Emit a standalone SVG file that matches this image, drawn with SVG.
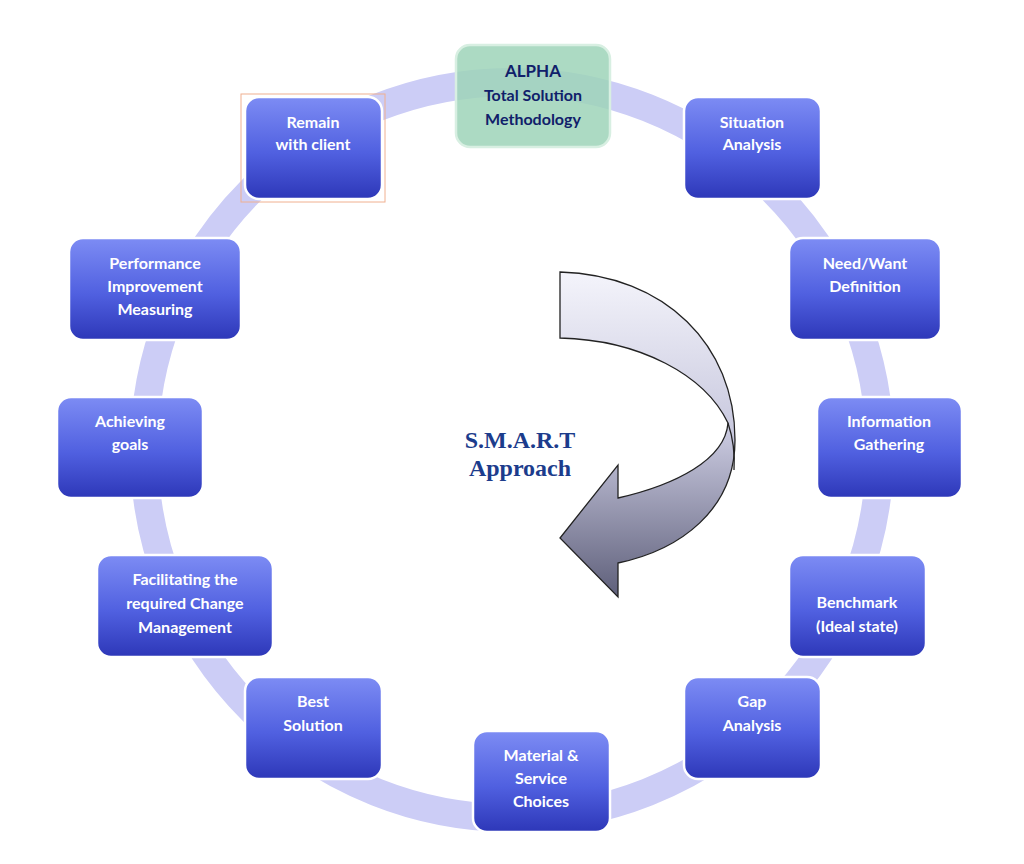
<svg xmlns="http://www.w3.org/2000/svg" width="1024" height="864" viewBox="0 0 1024 864">
<defs>
<linearGradient id="blue" x1="0" y1="0" x2="0" y2="1"><stop offset="0" stop-color="#7d8cf4"/><stop offset="0.55" stop-color="#5060e0"/><stop offset="1" stop-color="#2d37b8"/></linearGradient>
<linearGradient id="arr" x1="0" y1="0" x2="0" y2="1"><stop offset="0" stop-color="#f4f4fb"/><stop offset="0.5" stop-color="#c8c8de"/><stop offset="1" stop-color="#5e5f7a"/></linearGradient>
<style>
.n{fill:url(#blue);stroke:#ffffff;stroke-width:2.5}
.o{fill:none;stroke:#5a64c8;stroke-width:1}
.t{font-family:Lato,"Open Sans",sans-serif;font-weight:bold;font-size:16px;fill:#ffffff;text-anchor:middle}
</style>
</defs>
<rect width="1024" height="864" fill="#ffffff"/>
<g id="ring"><circle cx="512" cy="450" r="368" fill="none" stroke="#cccdf6" stroke-width="28"/></g>
<g id="connectors">
<path d="M560,272 C665,275 735,345 735,440 C735,510 680,550 618,563 L618,597 L560,538 L618,465 L618,498 C675,485 725,460 728,423 C705,375 640,340 560,338 Z" fill="url(#arr)" stroke="#222" stroke-width="1.3"/>
<path d="M728,423 C733,438 735,455 734,470" fill="none" stroke="#222" stroke-width="1.3"/>
</g>
<g id="smart"><text x="520" y="448" font-family="Liberation Serif,serif" font-weight="bold" font-size="24" fill="#1c3c8c" text-anchor="middle">S.M.A.R.T</text><text x="520" y="476" font-family="Liberation Serif,serif" font-weight="bold" font-size="24" fill="#1c3c8c" text-anchor="middle">Approach</text></g>
<g id="alpha"><rect x="456" y="45" width="154" height="102" rx="14" fill="#9ed3b8" fill-opacity="0.85" stroke="#d8efe2" stroke-width="2.5"/>
<text class="t" x="533" y="77" fill="#10206a" style="fill:#10206a;font-size:17px">ALPHA</text><text class="t" x="533" y="101" style="fill:#10206a">Total Solution</text><text class="t" x="533" y="125" style="fill:#10206a">Methodology</text></g>
<g id="remain"><rect x="241" y="94" width="144" height="108" fill="none" stroke="#f0b090" stroke-width="1"/><rect class="n" x="245" y="97" width="137" height="102" rx="14"/><text class="t" x="313" y="128">Remain</text><text class="t" x="313" y="150">with  client</text></g>
<g id="situation"><rect class="n" x="684" y="97" width="137" height="102" rx="14"/><text class="t" x="752" y="128">Situation</text><text class="t" x="752" y="150">Analysis</text></g>
<g id="need"><rect class="n" x="789" y="238" width="152" height="102" rx="14"/><text class="t" x="865" y="269">Need/Want</text><text class="t" x="865" y="292">Definition</text></g>
<g id="info"><rect class="n" x="817" y="397" width="145" height="101" rx="14"/><text class="t" x="889" y="427">Information</text><text class="t" x="889" y="450">Gathering</text></g>
<g id="bench"><rect class="n" x="789" y="555" width="137" height="102" rx="14"/><text class="t" x="857" y="608">Benchmark</text><text class="t" x="857" y="632">(Ideal state)</text></g>
<g id="gap"><rect class="n" x="684" y="677" width="137" height="102" rx="14"/><text class="t" x="752" y="707">Gap</text><text class="t" x="752" y="731">Analysis</text></g>
<g id="material"><rect class="n" x="473" y="731" width="137" height="101" rx="14"/><text class="t" x="541" y="761">Material &amp;</text><text class="t" x="541" y="784">Service</text><text class="t" x="541" y="807">Choices</text></g>
<g id="best"><rect class="n" x="245" y="677" width="137" height="102" rx="14"/><text class="t" x="313" y="707">Best</text><text class="t" x="313" y="731">Solution</text></g>
<g id="facil"><rect class="n" x="97" y="555" width="176" height="102" rx="14"/><text class="t" x="185" y="585">Facilitating the</text><text class="t" x="185" y="609">required Change</text><text class="t" x="185" y="633">Management</text></g>
<g id="achieve"><rect class="n" x="57" y="397" width="146" height="101" rx="14"/><text class="t" x="130" y="427">Achieving</text><text class="t" x="130" y="450">goals</text></g>
<g id="perf"><rect class="n" x="69" y="238" width="172" height="102" rx="14"/><text class="t" x="155" y="269">Performance</text><text class="t" x="155" y="292">Improvement</text><text class="t" x="155" y="315">Measuring</text></g>
</svg>
